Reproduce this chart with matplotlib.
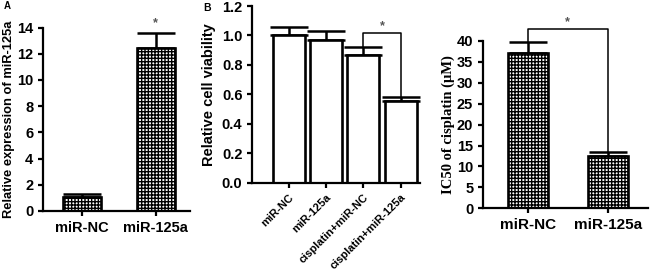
import matplotlib
matplotlib.use('Agg')
import matplotlib.pyplot as plt
import numpy as np

# panel A: relative expression of miR-125a
a_groups = ['miR-NC', 'miR-125a']
a_values = [1.05, 12.4]
a_errors = [0.25, 1.15]

# panel B: relative cell viability
b_groups = ['miR-NC', 'miR-125a', 'cisplatin+miR-NC', 'cisplatin+miR-125a']
b_values = [1.0, 0.97, 0.87, 0.555]
b_errors = [0.06, 0.06, 0.05, 0.03]

# panel C: IC50 of cisplatin
c_groups = ['miR-NC', 'miR-125a']
c_values = [37.1, 12.55]
c_errors = [2.7, 0.95]

plt.rcParams['font.family'] = ['Liberation Sans', 'DejaVu Sans']
plt.rcParams['font.weight'] = 'bold'
plt.rcParams['axes.labelweight'] = 'bold'
plt.rcParams['hatch.linewidth'] = 1.0

LW = 1.6


def style_axes(ax):
    '''
    Prism-like axes: only left and bottom spines, thick, ticks outward
    '''
    for side in ['top', 'right']:
        ax.spines[side].set_visible(False)
    for side in ['left', 'bottom']:
        ax.spines[side].set_linewidth(LW)
    ax.tick_params(width=LW, length=3.5, direction='out', labelsize=10.5)


def draw_bars(ax, values, errors, width, hatch):
    '''
    Bars with an upward-only error bar on each
    '''
    x = np.arange(len(values))
    ax.bar(x, values, width=width, color='white', edgecolor='black',
           linewidth=1.9, hatch=hatch, zorder=2)
    ax.errorbar(x, values, yerr=[np.zeros(len(errors)), errors], fmt='none',
                ecolor='black', elinewidth=1.8, capsize=14, capthick=1.8,
                zorder=1, clip_on=False)
    return x


def bracket(ax, x0, x1, y0, y1, top):
    '''
    Significance bracket from bar x0 to bar x1
    '''
    ax.plot([x0, x0, x1, x1], [y0, top, top, y1], color='black', lw=1.1,
            clip_on=False)


def bold_ticks(ax):
    for lab in ax.get_xticklabels() + ax.get_yticklabels():
        lab.set_fontweight('bold')


fig = plt.figure(figsize=(6.5, 2.75), dpi=100)

# ---- A ----
axA = fig.add_axes([0.066, 0.233, 0.226, 0.667])
style_axes(axA)
x = draw_bars(axA, a_values, a_errors, 0.51, '+++++')
axA.set_xlim(-0.527, 1.459)
axA.set_ylim(0, 14)
axA.set_yticks(np.arange(0, 15, 2))
axA.set_xticks(x)
axA.set_xticklabels(a_groups, fontsize=10.5)
axA.set_ylabel('Relative expression of miR-125a', fontsize=9.3, labelpad=1.5)
axA.text(1, a_values[1] + a_errors[1] + 0.3, '*', ha='center', va='bottom',
         fontsize=9, color='#555555')
bold_ticks(axA)
fig.text(0.006, 0.995, 'A', fontsize=7, fontweight='bold', va='top')

# ---- B ----
axB = fig.add_axes([0.388, 0.336, 0.258, 0.642])
style_axes(axB)
x = draw_bars(axB, b_values, b_errors, 0.86, None)
axB.set_xlim(-0.984, 3.52)
axB.set_ylim(0, 1.2)
axB.set_yticks(np.arange(0, 1.21, 0.2))
axB.yaxis.set_major_formatter(matplotlib.ticker.FormatStrFormatter('%.1f'))
axB.set_xticks(x)
axB.set_xticklabels(b_groups, rotation=45, ha='right', rotation_mode='anchor',
                    fontsize=8)
axB.set_ylabel('Relative cell viability', fontsize=10.5, labelpad=4)
bracket(axB, 2, 3, b_values[2] + b_errors[2], b_values[3] + b_errors[3], 1.015)
axB.text(2.5, 1.02, '*', ha='center', va='bottom', fontsize=9,
         color='#555555')
bold_ticks(axB)
fig.text(0.312, 0.99, 'B', fontsize=7.5, fontweight='bold', va='top')

# ---- C ----
axC = fig.add_axes([0.743, 0.2425, 0.254, 0.609])
style_axes(axC)
x = draw_bars(axC, c_values, c_errors, 0.5, '+++++')
axC.set_xlim(-0.557, 1.498)
axC.set_ylim(0, 40)
axC.set_yticks(np.arange(0, 41, 5))
axC.set_xticks(x)
axC.set_xticklabels(c_groups, fontsize=11)
axC.set_ylabel('IC50 of cisplatin (\u03bcM)', fontsize=10.5,
               family=['Liberation Serif', 'DejaVu Serif'], labelpad=1)
bracket(axC, 0, 1, c_values[0] + c_errors[0], c_values[1] + c_errors[1], 42.8)
axC.text(0.5, 43.0, '*', ha='center', va='bottom', fontsize=9,
         color='#555555')
bold_ticks(axC)

fig.savefig('out.png', dpi=100)
